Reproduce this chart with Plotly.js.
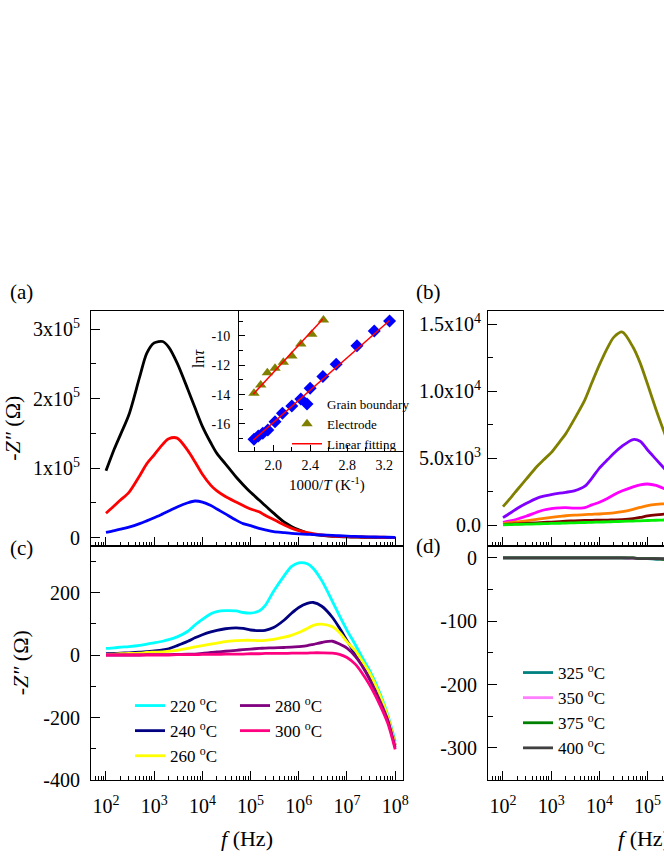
<!DOCTYPE html>
<html>
<head>
<meta charset="utf-8">
<script src="https://cdn.plot.ly/plotly-3.0.1.min.js"></script>
<style>
  html, body { margin: 0; padding: 0; overflow: hidden; background: #fff; }
  #chart { width: 830px; height: 860px; }
</style>
</head>
<body>
<div id="chart"></div>
<script>
// Frequency grid (Hz) shared by panels (a) and (c); (b) and (d) use the first part of it.
const FREQ = [1e2, 1.5e2, 2e2, 3e2, 5e2, 7e2, 1e3, 1.5e3, 2e3, 3e3, 5e3, 7e3,
  1e4, 1.5e4, 2e4, 3e4, 5e4, 7e4, 1e5, 1.5e5, 2e5, 3e5, 5e5, 7e5,
  1e6, 1.5e6, 2e6, 3e6, 5e6, 7e6, 1e7, 1.5e7, 2e7, 3e7, 5e7, 7e7, 1e8];
const FREQ_BD = [1e2, 1.5e2, 2e2, 3e2, 5e2, 7e2, 1e3, 1.5e3, 2e3, 3e3, 5e3, 7e3,
  1e4, 1.5e4, 2e4, 3e4, 5e4, 7e4, 1e5, 1.5e5, 2e5, 3e5, 5e5];

// (a) -Z'' in ohm
const aBlack = [96000, 128000, 148000, 177000, 231000, 265000, 280000, 282000, 274000, 251000, 213000, 187000,
  160000, 136000, 121000, 106000, 87000, 76000, 65000, 54000, 46000, 35000, 22000, 16000,
  11000, 6500, 4500, 3000, 1800, 1200, 800, 500, 400, 300, 200, 100, 0];
const aRed = [35000, 46000, 54000, 65000, 89000, 106000, 119000, 134000, 142000, 143000, 125000, 109000,
  91000, 75000, 67000, 59000, 51000, 46000, 41000, 37000, 32000, 26000, 18000, 13500,
  10000, 7000, 5500, 3600, 2200, 1600, 1200, 900, 700, 500, 400, 300, 200];
const aBlue = [7500, 10000, 12000, 15000, 20000, 24000, 28500, 34000, 38000, 44000, 50000, 52500,
  51000, 46000, 41000, 34000, 25000, 20000, 17000, 13000, 11000, 8500, 7000, 6000,
  5200, 4600, 4200, 3600, 3000, 2500, 2000, 1500, 1200, 900, 600, 400, 300];

// (b)
const bOlive = [1370, 2100, 2650, 3400, 4350, 4870, 5400, 6210, 6800, 7880, 9340, 10630,
  11950, 13280, 14020, 14400, 13260, 12100, 10500, 8600, 7350, 5700, 4300];
const bViolet = [550, 950, 1250, 1600, 1990, 2150, 2260, 2370, 2440, 2550, 2900, 3500,
  4250, 4900, 5350, 5900, 6380, 6250, 5600, 4900, 4400, 3700, 3000];
const bMagenta = [200, 330, 450, 650, 950, 1120, 1220, 1280, 1290, 1260, 1300, 1500,
  1700, 2000, 2250, 2550, 2850, 3000, 3060, 2950, 2780, 2500, 2200];
const bOrange = [120, 180, 230, 310, 420, 500, 570, 640, 690, 740, 780, 800,
  820, 860, 900, 990, 1170, 1310, 1450, 1540, 1570, 1580, 1550];
const bMaroon = [50, 70, 90, 120, 160, 190, 220, 250, 280, 310, 340, 350,
  360, 370, 380, 400, 470, 560, 680, 760, 800, 830, 850];
const bGreen = [20, 35, 45, 60, 85, 100, 115, 130, 145, 165, 185, 200,
  215, 235, 250, 270, 295, 315, 335, 355, 370, 385, 400];

// (c)
const C_NAMES = ["220 <sup>o</sup>C", "240 <sup>o</sup>C", "260 <sup>o</sup>C", "280 <sup>o</sup>C", "300 <sup>o</sup>C"];
const c220 = [21, 23, 25, 27, 31, 35, 39, 44, 49, 58, 76, 96, 114, 132, 139, 142, 141, 136,
  134, 141, 158, 204, 254, 283, 295, 292, 277, 238, 171, 125, 79, 32, -4, -52, -128, -192, -277];
const c240 = [4, 5, 6, 7, 9, 11, 13, 16, 20, 30, 44, 55, 65, 74, 79, 84, 87, 85,
  80, 78, 79, 88, 112, 133, 152, 165, 168, 156, 120, 86, 46, 2, -28, -72, -142, -200, -288];
const c260 = [2, 3, 4, 5, 6, 8, 9, 10, 12, 15, 21, 26, 30, 35, 38, 43, 46, 47,
  47, 46, 47, 50, 57, 63, 72, 85, 95, 99, 90, 72, 42, 13, -16, -60, -135, -196, -288];
const c280 = [0, 0, 0, 0, 0, 1, 1, 1, 1, 2, 3, 3, 5, 8, 10, 12, 15, 17,
  19, 21, 22, 23, 24, 25, 27, 30, 34, 40, 44, 35, 22, -5, -32, -80, -152, -208, -296];
const c300 = [0, 0, 0, 0, 0, 0, 0, 0, 0, 1, 1, 1, 2, 2, 2, 3, 3, 3,
  4, 4, 5, 5, 5, 6, 6, 6, 7, 7, 6, 2, -8, -30, -55, -98, -165, -218, -302];

// (d)
const D_NAMES = ["325 <sup>o</sup>C", "350 <sup>o</sup>C", "375 <sup>o</sup>C", "400 <sup>o</sup>C"];
const d325 = [0, 0, 0, 0, 0, 0, 0, 0, 0, 0, 0, 0, 0, 0, 0, 0, -1, -1, -1, -2, -2, -3, -4];
const d350 = [0, 0, 0, 0, 0, 0, 0, 0, 0, 0, 0, 0, 0, 0, 0, 0, -1, -1, -1, -1, -2, -2, -3];
const d375 = [0, 0, 0, 0, 0, 0, 0, 0, 0, 0, 0, 0, 0, 0, 0, 0, 0, -1, -1, -1, -2, -2, -3];
const d400 = [0, 0, 0, 0, 0, 0, 0, 0, 0, 0, 0, 0, 0, 0, 0, 0, 0, -1, -1, -1, -1, -2, -2];

// inset: ln(tau) vs 1000/T
const gbX = [1.79, 1.837, 1.885, 1.94, 2.018, 2.098, 2.20, 2.297, 2.398, 2.536, 2.68, 2.905, 3.092, 3.258];
const gbY = [-17.04, -16.82, -16.63, -16.41, -15.84, -15.27, -14.77, -14.29, -13.57, -12.77, -11.93, -10.66, -9.66, -8.98];
const elX = [1.79, 1.863, 1.935, 2.018, 2.108, 2.20, 2.297, 2.416, 2.542];
const elY = [-13.91, -13.34, -12.50, -12.20, -11.80, -11.36, -10.55, -9.88, -8.91];
const fitGbX = [1.783, 3.258], fitGbY = [-17.10, -8.95];
const fitElX = [1.783, 2.536], fitElY = [-13.97, -8.84];

// tick labels (plain hyphens, as in the original)
const DECADES = [2, 3, 4, 5, 6, 7, 8];
const A_TICKS = [0, 1e5, 2e5, 3e5];
const A_TEXT = ["0", "1x10<sup>5</sup>", "2x10<sup>5</sup>", "3x10<sup>5</sup>"];
const B_TICKS = [0, 5000, 10000, 15000];
const B_TEXT = ["0.0", "5.0x10<sup>3</sup>", "1.0x10<sup>4</sup>", "1.5x10<sup>4</sup>"];
const C_TICKS = [-400, -200, 0, 200];
const C_TEXT = ["-400", "-200", "0", "200"];
const D_TICKS = [-300, -200, -100, 0];
const D_TEXT = ["-300", "-200", "-100", "0"];
const INSET_X = [2.0, 2.4, 2.8, 3.2];
const INSET_X_TEXT = ["2.0", "2.4", "2.8", "3.2"];
const INSET_Y = [-16, -14, -12, -10];
const INSET_Y_TEXT = ["-16", "-14", "-12", "-10"];

const W = 830, H = 860;
const SERIF = "Liberation Serif, Times New Roman, serif";
const px = x => x / W;
const py = y => 1 - y / H;

function line(x, y, color, xa, ya, extra) {
  return Object.assign({
    type: "scatter", mode: "lines", x, y, xaxis: xa, yaxis: ya,
    line: { color, width: 2.8, shape: "spline", smoothing: 0.8 },
    showlegend: false, hoverinfo: "skip",
  }, extra || {});
}

const data = [
  line(FREQ, aBlack, "#000000", "x", "y"),
  line(FREQ, aRed, "#ff0000", "x", "y"),
  line(FREQ, aBlue, "#0000ff", "x", "y"),

  line(FREQ_BD, bOlive, "#808000", "x2", "y2"),
  line(FREQ_BD, bViolet, "#8000ff", "x2", "y2"),
  line(FREQ_BD, bMagenta, "#ff00ff", "x2", "y2"),
  line(FREQ_BD, bOrange, "#ff8000", "x2", "y2"),
  line(FREQ_BD, bMaroon, "#800000", "x2", "y2"),
  line(FREQ_BD, bGreen, "#00ee00", "x2", "y2"),

  // legend order: column 1 (220, 240, 260), column 2 (280, 300)
  line(FREQ, c220, "#00ffff", "x3", "y3", { name: C_NAMES[0], showlegend: true, legend: "legend2" }),
  line(FREQ, c240, "#000080", "x3", "y3", { name: C_NAMES[1], showlegend: true, legend: "legend2" }),
  line(FREQ, c260, "#ffff00", "x3", "y3", { name: C_NAMES[2], showlegend: true, legend: "legend2" }),
  line(FREQ, c280, "#800080", "x3", "y3", { name: C_NAMES[3], showlegend: true, legend: "legend3" }),
  line(FREQ, c300, "#ff0080", "x3", "y3", { name: C_NAMES[4], showlegend: true, legend: "legend3" }),

  line(FREQ_BD, d325, "#008080", "x4", "y4", { name: D_NAMES[0], showlegend: true, legend: "legend4" }),
  line(FREQ_BD, d350, "#ff80ff", "x4", "y4", { name: D_NAMES[1], showlegend: true, legend: "legend4" }),
  line(FREQ_BD, d375, "#008000", "x4", "y4", { name: D_NAMES[2], showlegend: true, legend: "legend4" }),
  line(FREQ_BD, d400, "#404040", "x4", "y4", { name: D_NAMES[3], showlegend: true, legend: "legend4" }),

  { type: "scatter", mode: "markers", x: gbX, y: gbY, xaxis: "x5", yaxis: "y5",
    name: "Grain boundary", legend: "legend",
    marker: { symbol: "diamond", size: 10, color: "#0000ff" } },
  { type: "scatter", mode: "markers", x: elX, y: elY, xaxis: "x5", yaxis: "y5",
    name: "Electrode", legend: "legend",
    marker: { symbol: "triangle-up", size: 10, color: "#808000" } },
  { type: "scatter", mode: "lines", x: fitGbX, y: fitGbY, xaxis: "x5", yaxis: "y5",
    name: "Linear fitting", legend: "legend", line: { color: "#ff0000", width: 1.5 } },
  { type: "scatter", mode: "lines", x: fitElX, y: fitElY, xaxis: "x5", yaxis: "y5",
    showlegend: false, line: { color: "#ff0000", width: 1.5 } },
];

const tickFont = { family: SERIF, size: 20, color: "#000" };
const titleFont = { family: SERIF, size: 22, color: "#000" };
const insetFont = { family: SERIF, size: 14, color: "#000" };

function frame(extra) {
  return Object.assign({
    showline: true, mirror: true, linecolor: "#000", linewidth: 1,
    ticks: "inside", ticklen: 9, tickwidth: 1, tickcolor: "#000",
    showgrid: false, zeroline: false, tickfont: tickFont, fixedrange: true,
  }, extra);
}

const LOG_RANGE = [1.689, 8.162];
function freqAxis(domain, anchor, labels) {
  return frame({
    type: "log", range: LOG_RANGE, domain, anchor,
    tickmode: "array", tickvals: DECADES.map(e => Math.pow(10, e)),
    ticktext: DECADES.map(e => "10<sup>" + e + "</sup>"),
    showticklabels: labels, ticklabelstandoff: 8,
    minor: { dtick: "D1", ticks: "inside", ticklen: 4, tickwidth: 1, tickcolor: "#000" },
    title: labels ? { text: "<i>f</i> (Hz)", font: titleFont, standoff: 14 } : { text: "" },
  });
}

const colL = [px(91), px(403)];
const colR = [px(488), px(800)];
const rowTop = [py(545.5), py(311)];
const rowBot = [py(780), py(545.5)];

const legendBase = {
  bgcolor: "rgba(0,0,0,0)", borderwidth: 0, xanchor: "left", yanchor: "top",
  font: { family: SERIF, size: 17, color: "#000" }, itemclick: false, itemdoubleclick: false,
};

function label(text, x, y, size, angle) {
  return {
    text, x: px(x), y: py(y), xref: "paper", yref: "paper",
    showarrow: false, xanchor: "center", yanchor: "middle", textangle: angle || 0,
    font: { family: SERIF, size, color: "#000" },
  };
}

const layout = {
  width: W, height: H,
  margin: { l: 0, r: 0, t: 0, b: 0, autoexpand: false },
  paper_bgcolor: "#fff", plot_bgcolor: "rgba(0,0,0,0)",
  font: { family: SERIF, color: "#000" },
  showlegend: true,
  xaxis: freqAxis(colL, "y", false),
  yaxis: frame({
    domain: rowTop, anchor: "x", range: [-11500, 325900],
    tickmode: "array", tickvals: A_TICKS, ticktext: A_TEXT, ticklabelstandoff: 6,
    minor: { dtick: 50000, tick0: 0, ticks: "inside", ticklen: 5, tickcolor: "#000" },
    title: { text: "-<i>Z″</i> (Ω)", font: titleFont, standoff: 8 },
  }),
  xaxis2: freqAxis(colR, "y2", false),
  yaxis2: frame({
    domain: rowTop, anchor: "x2", range: [-1530, 15970],
    tickmode: "array", tickvals: B_TICKS, ticktext: B_TEXT, ticklabelstandoff: 2,
    minor: { dtick: 2500, tick0: 0, ticks: "inside", ticklen: 5, tickcolor: "#000" },
  }),
  xaxis3: freqAxis(colL, "y3", true),
  yaxis3: frame({
    domain: rowBot, anchor: "x3", range: [-400, 350.4],
    tickmode: "array", tickvals: C_TICKS, ticktext: C_TEXT, ticklabelstandoff: 6,
    minor: { dtick: 100, tick0: 0, ticks: "inside", ticklen: 5, tickcolor: "#000" },
    title: { text: "-<i>Z″</i> (Ω)", font: titleFont, standoff: 8 },
  }),
  xaxis4: freqAxis(colR, "y4", true),
  yaxis4: frame({
    domain: rowBot, anchor: "x4", range: [-350.7, 19.7],
    tickmode: "array", tickvals: D_TICKS, ticktext: D_TEXT, ticklabelstandoff: 6,
    minor: { dtick: 50, tick0: 0, ticks: "inside", ticklen: 5, tickcolor: "#000" },
  }),
  xaxis5: frame({
    domain: [px(239), px(402.7)], anchor: "y5", range: [1.628, 3.40],
    tickmode: "array", tickvals: INSET_X, ticktext: INSET_X_TEXT, ticklen: 6,
    tickfont: insetFont, ticklabelstandoff: 1,
    minor: { dtick: 0.2, tick0: 0, ticks: "inside", ticklen: 4, tickcolor: "#000" },
  }),
  yaxis5: frame({
    domain: [py(450.7), py(311)], anchor: "x5", range: [-17.82, -8.30],
    tickmode: "array", tickvals: INSET_Y, ticktext: INSET_Y_TEXT, ticklen: 6,
    tickfont: insetFont, ticklabelstandoff: 5,
    minor: { dtick: 1, tick0: 0, ticks: "inside", ticklen: 4, tickcolor: "#000" },
  }),
  legend: Object.assign({}, legendBase, {
    x: px(287), y: py(389), font: { family: SERIF, size: 13, color: "#000" },
  }),
  legend2: Object.assign({}, legendBase, { x: px(130), y: py(688) }),
  legend3: Object.assign({}, legendBase, { x: px(235), y: py(688) }),
  legend4: Object.assign({}, legendBase, { x: px(518), y: py(655) }),
  annotations: [
    label("(a)", 21, 292, 21), label("(b)", 429, 292, 21),
    label("(c)", 21, 548, 21), label("(d)", 429, 546, 21),
    // inset axis titles
    label("1000/<i>T</i> (K<sup>-1</sup>)", 327, 484, 15),
    label("ln<i>τ</i>", 199, 359, 16, -90),
  ],
};

Plotly.newPlot("chart", data, layout, { displayModeBar: false, staticPlot: true });
</script>
</body>
</html>
